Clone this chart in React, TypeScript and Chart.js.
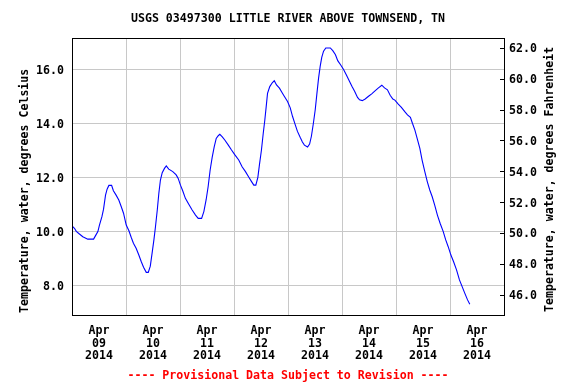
import React, { useEffect, useRef } from 'react';
import { Chart, registerables } from 'chart.js';

Chart.register(...registerables);

const TITLE = 'USGS 03497300 LITTLE RIVER ABOVE TOWNSEND, TN';
const FOOTER = '---- Provisional Data Subject to Revision ----';
const Y_LEFT_TITLE = 'Temperature, water, degrees Celsius';
const Y_RIGHT_TITLE = 'Temperature, water, degrees Fahrenheit';

const MONTH_LABEL = 'Apr';
const YEAR_LABEL = '2014';
const DAY_LABELS = ['09', '10', '11', '12', '13', '14', '15', '16'];

const CELSIUS_TICKS = [8, 10, 12, 14, 16];
const FAHRENHEIT_TICKS = [46, 48, 50, 52, 54, 56, 58, 60, 62];

// hours since Apr 09 2014 00:00
const HOURS = [
  0, 1.1, 1.9, 3.3, 4.8, 7, 9.6, 10.4, 11.5, 12.2, 13.3, 14, 14.9, 15.6, 16.4, 17.6,
  18.4, 19.6, 20.8, 21.9, 22.9, 24.1, 25.3, 26.3, 27.3, 28.5, 29.7, 30.8, 31.8, 33,
  33.9, 34.8, 35.6, 36.4, 37.1, 37.9, 38.6, 39.3, 40.1, 41.1, 41.9, 43, 44.8, 46.3,
  47.2, 48.2, 49.2, 50.4, 51.9, 53.4, 54.9, 56.1, 57.6, 58.6, 59.6, 60.5, 61.4, 62.3,
  63.2, 64.1, 65, 65.7, 66.8, 67.9, 69.4, 70.9, 72.4, 74.1, 75.6, 77.1, 78.6, 79.8,
  80.8, 81.7, 82.6, 83.3, 84.2, 85, 85.7, 86.3, 86.9, 87.9, 89, 89.9, 90.9, 92.2,
  93.4, 94.2, 95.8, 97, 98, 99.2, 100.2, 101.4, 102.4, 103.3, 104.7, 105.6, 106.4,
  107.3, 108.1, 108.8, 109.6, 110.3, 111, 111.8, 112.8, 114.8, 115.9, 117.1, 118.1,
  119.5, 120.7, 121.9, 123.2, 124.4, 125.6, 126.9, 127.8, 129, 130.3, 131.8, 133.2,
  134.8, 136.2, 137.7, 138.9, 140.2, 141.4, 142.6, 143.5, 145, 146.4, 147.9, 149.1,
  150.4, 151.3, 152.4, 153.4, 154.6, 155.6, 156.8, 157.9, 159, 160.1, 161.2, 162.4,
  163.6, 165, 166.1, 167.2, 168.4, 169.6, 170.9, 172.2, 173.4, 174.6, 175.8, 176.8,
];

const TEMPS_C = [
  10.2, 10.11, 10.0, 9.9, 9.8, 9.71, 9.71, 9.83, 9.99, 10.23, 10.54, 10.81, 11.34, 11.56, 11.7, 11.7,
  11.5, 11.34, 11.16, 10.91, 10.67, 10.23, 10.02, 9.78, 9.56, 9.37, 9.12, 8.87, 8.67, 8.48,
  8.48, 8.71, 9.19, 9.68, 10.17, 10.79, 11.41, 11.9, 12.17, 12.33, 12.42, 12.3, 12.21, 12.09,
  11.96, 11.71, 11.5, 11.22, 11.0, 10.79, 10.6, 10.48, 10.48, 10.73, 11.16, 11.65, 12.27, 12.74,
  13.13, 13.44, 13.54, 13.59, 13.5, 13.38, 13.2, 13.01, 12.83, 12.64, 12.39, 12.21, 12.0, 11.84,
  11.71, 11.71, 12.0, 12.46, 13.01, 13.63, 14.12, 14.61, 15.11, 15.36, 15.5, 15.58, 15.42, 15.3,
  15.13, 15.02, 14.81, 14.57, 14.26, 13.95, 13.7, 13.48, 13.31, 13.19, 13.12, 13.23, 13.52,
  14.01, 14.5, 15.06, 15.68, 16.11, 16.44, 16.67, 16.79, 16.79, 16.69, 16.54, 16.32,
  16.15, 15.99, 15.8, 15.58, 15.37, 15.19, 14.96, 14.87, 14.84, 14.9, 15.0, 15.09,
  15.21, 15.31, 15.41, 15.31, 15.24, 15.04, 14.9, 14.86, 14.71, 14.59, 14.43, 14.31,
  14.22, 14.0, 13.75, 13.44, 13.07, 12.64, 12.21, 11.84, 11.53, 11.28, 10.97, 10.6,
  10.3, 9.99, 9.68, 9.43, 9.12, 8.87, 8.57, 8.2, 7.95, 7.7, 7.46, 7.3,
];

const C_MIN = 6.863;
const C_MAX = 17.159;
const F_MIN = 44.64;
const F_MAX = 62.68;
const X_MIN = 0;
const X_MAX = 192;

const FONT = "'DejaVu Sans Mono', 'Liberation Mono', monospace";

const framePlugin = {
  id: 'usgsFrame',
  afterDraw(chart: any) {
    const { ctx, chartArea: a } = chart;
    ctx.save();
    ctx.strokeStyle = '#000000';
    ctx.lineWidth = 1;
    ctx.strokeRect(
      Math.round(a.left) + 0.5,
      Math.round(a.top) + 0.5,
      Math.round(a.right - a.left),
      Math.round(a.bottom - a.top) - 1
    );
    ctx.fillStyle = '#000000';
    ctx.font = `bold 11.6px ${FONT}`;
    ctx.textBaseline = 'middle';
    ctx.textAlign = 'left';
    ctx.save();
    ctx.translate(a.left - 47, a.bottom - 3);
    ctx.rotate(-Math.PI / 2);
    ctx.fillText(Y_LEFT_TITLE, 0, 0);
    ctx.restore();
    ctx.save();
    ctx.translate(a.right + 46, a.bottom - 4);
    ctx.rotate(-Math.PI / 2);
    ctx.fillText(Y_RIGHT_TITLE, 0, 0);
    ctx.restore();
    ctx.restore();
  },
};

export default function App() {
  const canvasRef = useRef<HTMLCanvasElement | null>(null);

  useEffect(() => {
    const canvas = canvasRef.current;
    if (!canvas) return;
    const data = HOURS.map((h, i) => ({ x: h, y: TEMPS_C[i] }));
    const chart = new Chart(canvas, {
      type: 'line',
      data: {
        datasets: [
          {
            data,
            borderColor: '#0000ff',
            borderWidth: 1.1,
            pointRadius: 0,
            tension: 0,
            fill: false,
            xAxisID: 'x',
            yAxisID: 'y',
          },
        ],
      },
      options: {
        animation: false,
        responsive: false,
        devicePixelRatio: 1,
        layout: { padding: 0 },
        plugins: {
          legend: { display: false },
          tooltip: { enabled: false },
          title: {
            display: true,
            text: TITLE,
            color: '#000000',
            font: { family: FONT, size: 11.6, weight: 'bold', lineHeight: 1.2 },
            padding: { top: 12, bottom: 12.08 },
          },
          subtitle: {
            display: true,
            position: 'bottom',
            text: FOOTER,
            color: '#ff0000',
            font: { family: FONT, size: 11.6, weight: 'bold', lineHeight: 1.2 },
            padding: { top: 1, bottom: 1 },
          },
        },
        scales: {
          x: {
            type: 'linear',
            position: 'bottom',
            min: X_MIN,
            max: X_MAX,
            afterBuildTicks: (scale: any) => {
              scale.ticks = DAY_LABELS.map((_, i) => ({ value: i * 24 + 12 }));
            },
            afterFit: (scale: any) => {
              scale.height = 52.08;
            },
            grid: { offset: true, color: '#c8c8c8', drawTicks: false, lineWidth: 1 },
            border: { display: false },
            ticks: {
              autoSkip: false,
              maxRotation: 0,
              padding: 8,
              color: '#000000',
              font: { family: FONT, size: 11.6, weight: 'bold', lineHeight: 1.12 },
              callback: (value: any) => {
                const idx = Math.round((Number(value) - 12) / 24);
                return [MONTH_LABEL, DAY_LABELS[idx] ?? '', YEAR_LABEL];
              },
            },
          },
          y: {
            type: 'linear',
            position: 'left',
            min: C_MIN,
            max: C_MAX,
            afterBuildTicks: (scale: any) => {
              scale.ticks = CELSIUS_TICKS.map((v) => ({ value: v }));
            },
            afterFit: (scale: any) => {
              scale.width = 72;
            },
            grid: { color: '#c8c8c8', drawTicks: false, lineWidth: 1 },
            border: { display: false },
            ticks: {
              padding: 8,
              labelOffset: 2,
              color: '#000000',
              font: { family: FONT, size: 11.6, weight: 'bold' },
              callback: (value: any) => Number(value).toFixed(1),
            },
          },
          y2: {
            type: 'linear',
            position: 'right',
            display: true,
            min: F_MIN,
            max: F_MAX,
            afterBuildTicks: (scale: any) => {
              scale.ticks = FAHRENHEIT_TICKS.map((v) => ({ value: v }));
            },
            afterFit: (scale: any) => {
              scale.width = 72;
            },
            grid: {
              drawOnChartArea: false,
              drawTicks: true,
              tickLength: -4,
              color: '#000000',
              lineWidth: 1,
            },
            border: { display: false },
            ticks: {
              padding: 9,
              labelOffset: 1,
              color: '#000000',
              font: { family: FONT, size: 11.6, weight: 'bold' },
              callback: (value: any) => Number(value).toFixed(1),
            },
          },
        },
      } as any,
      plugins: [framePlugin],
    });
    return () => chart.destroy();
  }, []);

  return (
    <div style={{ position: 'fixed', left: 0, top: 0, width: 576, height: 384, background: '#ffffff' }}>
      <canvas ref={canvasRef} width={576} height={384} style={{ display: 'block', width: 576, height: 384 }} />
    </div>
  );
}
